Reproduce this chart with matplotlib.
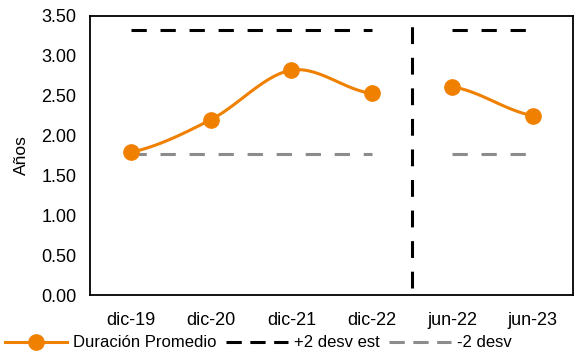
import numpy as np
import matplotlib.pyplot as plt
from matplotlib.lines import Line2D

categorias = ['dic-19', 'dic-20', 'dic-21', 'dic-22', 'jun-22', 'jun-23']
duracion = [1.79, 2.20, 2.82, 2.53, 2.61, 2.25]
mas_2_desv = [3.33, 3.33, 3.33, 3.33, 3.33, 3.33]
menos_2_desv = [1.77, 1.77, 1.77, 1.77, 1.77, 1.77]
grupos = [[0, 1, 2, 3], [4, 5]]

naranja = '#F08000'
gris = '#8C8C8C'

plt.rcParams['font.family'] = ['Liberation Sans', 'DejaVu Sans']


def suavizar(y, i, n=40):
    # tramo tipo Excel (Catmull-Rom) entre el punto i y el i+1
    p0 = y[max(i - 1, 0)]
    p1 = y[i]
    p2 = y[i + 1]
    p3 = y[min(i + 2, len(y) - 1)]
    c1 = p1 + (p2 - p0) / 6
    c2 = p2 - (p3 - p1) / 6
    t = np.linspace(0, 1, n)
    yy = (1 - t) ** 3 * p1 + 3 * (1 - t) ** 2 * t * c1 + 3 * (1 - t) * t ** 2 * c2 + t ** 3 * p2
    return i + t, yy


fig = plt.figure(figsize=(5.75, 3.55), dpi=100)
ax = fig.add_axes([0.157, 0.169, 0.8395, 0.786])

x = np.arange(len(categorias))
for g in grupos:
    ax.plot([x[g[0]], x[g[-1]]], [mas_2_desv[g[0]], mas_2_desv[g[-1]]], color='black',
            lw=2.2, dashes=(5, 4.5), zorder=2)
    ax.plot([x[g[0]], x[g[-1]]], [menos_2_desv[g[0]], menos_2_desv[g[-1]]], color=gris,
            lw=2.2, dashes=(5, 4.5), zorder=2)
    for i in g[:-1]:
        xs, ys = suavizar(duracion, i)
        ax.plot(xs, ys, color=naranja, lw=2.2, zorder=3)
    ax.plot(x[g], [duracion[i] for i in g], 'o', color=naranja, ms=11, zorder=4)

ax.axvline(3.5, ymin=0.025, ymax=0.985, color='black', lw=2.2, dashes=(5.5, 4.5), zorder=2)

ax.set_xlim(-0.5, 5.5)
ax.set_ylim(0, 3.5)
ax.set_yticks(np.arange(0, 3.51, 0.5))
ax.set_yticklabels(['%.2f' % v for v in np.arange(0, 3.51, 0.5)])
ax.set_xticks(x)
ax.set_xticklabels(categorias)
ax.tick_params(length=0, labelsize=13, pad=10)
ax.tick_params(axis='x', pad=12)
for s in ax.spines.values():
    s.set_linewidth(1.3)
ax.set_ylabel('Años', fontsize=12.5, labelpad=9)

handles = [
    Line2D([], [], color=naranja, lw=2.2, marker='o', ms=11),
    Line2D([], [], color='black', lw=2.2, dashes=(5, 2.8)),
    Line2D([], [], color=gris, lw=2.2, dashes=(5, 2.8)),
]
fig.legend(handles, ['Duración Promedio', '+2 desv est', '-2 desv'], loc='center left',
           bbox_to_anchor=(0.006, 0.034), ncol=3, frameon=False, fontsize=12,
           handlelength=3.7, handletextpad=0.35, columnspacing=0.6, borderaxespad=0,
           borderpad=0.1)

fig.savefig('out.png', dpi=100)
